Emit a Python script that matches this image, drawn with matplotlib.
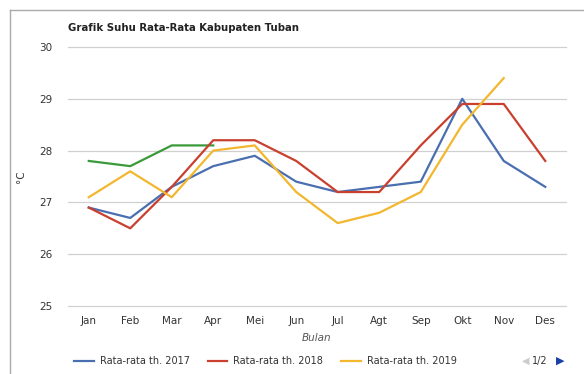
import numpy as np
import matplotlib.pyplot as plt
from matplotlib.lines import Line2D

bulan = ['Jan', 'Feb', 'Mar', 'Apr', 'Mei', 'Jun', 'Jul', 'Agt', 'Sep', 'Okt', 'Nov', 'Des']
suhu_2017 = [26.9, 26.7, 27.3, 27.7, 27.9, 27.4, 27.2, 27.3, 27.4, 29.0, 27.8, 27.3]
suhu_2018 = [26.9, 26.5, 27.3, 28.2, 28.2, 27.8, 27.2, 27.2, 28.1, 28.9, 28.9, 27.8]
suhu_2019 = [27.1, 27.6, 27.1, 28.0, 28.1, 27.2, 26.6, 26.8, 27.2, 28.5, 29.4]
suhu_2020 = [27.8, 27.7, 28.1, 28.1]
label_seri = ['Rata-rata th. 2017', 'Rata-rata th. 2018', 'Rata-rata th. 2019']
warna = ['#4a6fb0', '#c9402e', '#f2b72e', '#3a9a3a']

plt.rcParams['font.family'] = ['DejaVu Sans']

fig = plt.figure(figsize=(5.84, 3.74), dpi=100)
ax = fig.add_axes([68 / 584, 1 - 306 / 374, (566 - 68) / 584, (306 - 47) / 374])

x = np.arange(len(bulan))
for data, c in zip([suhu_2020, suhu_2017, suhu_2018, suhu_2019], [warna[3], warna[0], warna[1], warna[2]]):
    ax.plot(x[:len(data)], data, color=c, linewidth=1.6)

ax.set_xlim(-0.5, 11.5)
ax.set_ylim(25, 30)
ax.set_yticks([25, 26, 27, 28, 29, 30])
ax.set_xticks(x)
ax.set_xticklabels(bulan)
ax.tick_params(length=0, labelsize=7.5, colors='#333333')
ax.tick_params(axis='y', pad=11)
ax.tick_params(axis='x', pad=7)
ax.grid(axis='y', color='#d0d0d0', linewidth=0.9)
for gl in ax.get_ygridlines():
    gl.set_clip_on(False)
ax.set_axisbelow(True)
for s in ax.spines.values():
    s.set_visible(False)

ax.set_xlabel('Bulan', fontsize=7.5, style='italic', color='#555555', labelpad=5)
ax.set_ylabel('°C', fontsize=7.5, color='#333333', labelpad=10)

fig.text(68 / 584, 1 - 28 / 374, 'Grafik Suhu Rata-Rata Kabupaten Tuban', fontsize=7.3,
         fontweight='bold', color='#222222', va='center')

# frame
fig.add_artist(Line2D([10 / 584, 10 / 584], [0, 1 - 10 / 374], color='#aaaaaa', linewidth=1))
fig.add_artist(Line2D([10 / 584, 1], [1 - 10 / 374, 1 - 10 / 374], color='#aaaaaa', linewidth=1))

# legend
handles = [Line2D([], [], color=c, linewidth=1.6) for c in warna[:3]]
fig.legend(handles, label_seri, loc='center left', bbox_to_anchor=(65 / 584, 1 - 361 / 374),
           ncol=3, frameon=False, fontsize=7, handlelength=2.05, handletextpad=0.6,
           columnspacing=1.85, labelcolor='#333333')

fig.text(540 / 584, 1 - 361 / 374, '1/2', fontsize=7, color='#333333', va='center', ha='center')
fig.text(526 / 584, 1 - 361 / 374, '◀', fontsize=7, color='#cccccc', va='center', ha='center')
fig.text(560 / 584, 1 - 361 / 374, '▶', fontsize=8, color='#1a3fa8', va='center', ha='center')

fig.savefig('out.png', dpi=100)
